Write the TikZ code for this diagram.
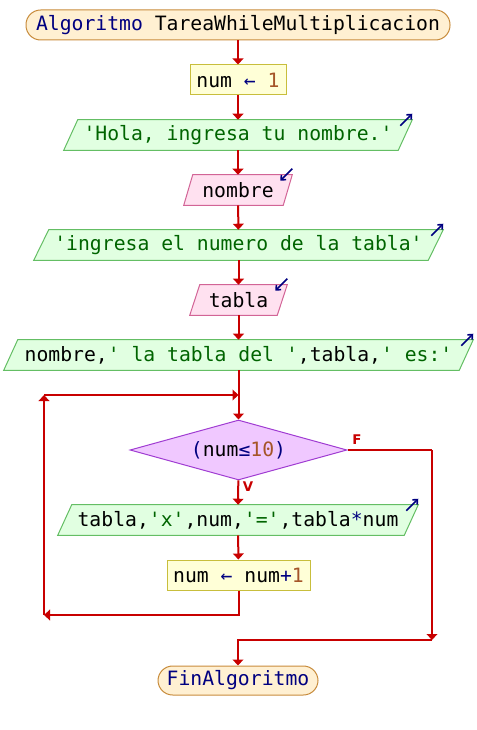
\documentclass[tikz,border=0pt]{standalone}
\usepackage{fontspec}
\newfontfamily\codefont{DejaVu Sans Mono}
\newfontfamily\tagfont{DejaVu Sans}
\usetikzlibrary{shapes.geometric,arrows.meta,backgrounds,calc}

\definecolor{flowred}{RGB}{200,0,0}
\definecolor{kw}{RGB}{0,0,128}
\definecolor{nb}{RGB}{165,85,40}
\definecolor{st}{RGB}{0,100,0}
\definecolor{termfill}{RGB}{255,240,210}
\definecolor{termline}{RGB}{200,140,60}
\definecolor{procfill}{RGB}{255,255,215}
\definecolor{procline}{RGB}{200,190,60}
\definecolor{outfill}{RGB}{225,255,225}
\definecolor{outline}{RGB}{100,190,100}
\definecolor{infill}{RGB}{255,225,240}
\definecolor{inline}{RGB}{210,100,150}
\definecolor{decfill}{RGB}{240,200,255}
\definecolor{decline}{RGB}{160,60,210}

% parallelogram around a fixed-size text node: name, half slant (px), style
\newcommand{\slantbox}[3]{%
  \path[#3] ([xshift=-#2*0.75pt]#1.south west) -- ([xshift=-#2*0.75pt]#1.south east)
    -- ([xshift=#2*0.75pt]#1.north east) -- ([xshift=#2*0.75pt]#1.north west) -- cycle;}
% small navy arrow at the top right corner of an output block
\newcommand{\outicon}[2]{%
  \draw[icon] ([shift={(#2-12,6)}]#1.north east) -- ([shift={(#2,-6)}]#1.north east);}
% small navy arrow at the top right corner of an input block
\newcommand{\inicon}[2]{%
  \draw[icon] ([shift={(#2,-6)}]#1.north east) -- ([shift={(#2-12,6)}]#1.north east);}

\begin{document}
\begin{tikzpicture}[x=0.75pt,y=-0.75pt,
  every node/.style={font=\codefont\fontsize{14.8}{17}\selectfont, inner sep=0pt},
  block/.style={minimum height=22.5pt},
  term/.style={block, draw=termline, fill=termfill, line width=0.75pt, rounded corners=11pt},
  proc/.style={block, draw=procline, fill=procfill, line width=0.75pt},
  slot/.style={block},
  outshape/.style={draw=outline, fill=outfill, line width=0.75pt},
  inshape/.style={draw=inline, fill=infill, line width=0.75pt},
  dec/.style={diamond, aspect=3.6, draw=decline, fill=decfill, line width=0.75pt,
    minimum width=162.75pt, minimum height=45pt},
  flow/.style={draw=flowred, line width=1.5pt},
  tip/.style={-{Triangle[width=8pt,length=4.5pt]}},
  icon/.style={draw=kw, line width=1.2pt, -{Straight Barb[length=2.8pt,width=5pt]}},
  tag/.style={text=flowred, font=\tagfont\bfseries\fontsize{10}{12}\selectfont}]
\useasboundingbox (0,0) rectangle (476,730);

% blocks of the flowchart
\node[term, minimum width=318pt] (start) at (238,25)
  {{\color{kw}Algoritmo} TareaWhileMultiplicacion};
\node[proc, minimum width=72pt] (init) at (238,80)
  {num {\color{kw}←} {\color{nb}1}};
\node[slot, minimum width=250.5pt] (hola) at (238,135)
  {{\color{st}'Hola, ingresa tu nombre.'}};
\node[slot, minimum width=74.25pt] (readname) at (238,190) {nombre};
\node[slot, minimum width=295.5pt] (asktab) at (238.5,245)
  {{\color{st}'ingresa el numero de la tabla'}};
\node[slot, minimum width=65.25pt] (readtab) at (238.5,300) {tabla};
\node[slot, minimum width=341.25pt] (title) at (238.5,355)
  {nombre,{\color{st}' la tabla del '},tabla,{\color{st}' es:'}};
\node[dec] (cond) at (238.5,450)
  {{\color{kw}(}num{\color{kw}≤}{\color{nb}10}{\color{kw})}};
\node[slot, minimum width=259.5pt] (row) at (238,520)
  {tabla,{\color{st}'x'},num,{\color{st}'='},tabla{\color{kw}*}num};
\node[proc, minimum width=107.25pt] (step) at (238.5,575)
  {num {\color{kw}←} num{\color{kw}+}{\color{nb}1}};
\node[term, minimum width=120pt, minimum height=21.75pt] (finish) at (238,680.5)
  {{\color{kw}FinAlgoritmo}};

\node[tag] (flabel) at (357,440) {F};
\node[tag] (vlabel) at (248,487) {V};

% input/output shapes behind their texts
\begin{scope}[on background layer]
  \slantbox{hola}{7}{outshape}
  \slantbox{readname}{4.5}{inshape}
  \slantbox{asktab}{7.5}{outshape}
  \slantbox{readtab}{5}{inshape}
  \slantbox{title}{7}{outshape}
  \slantbox{row}{7}{outshape}
\end{scope}

\outicon{hola}{7}
\inicon{readname}{4.5}
\outicon{asktab}{7.5}
\inicon{readtab}{5}
\outicon{title}{7}
\outicon{row}{7}

% points of the loop and of the exit path
\coordinate (loopjoin) at (238.5,395);
\coordinate (loopbottom) at (44,615);
\coordinate (looptop) at (44,395);
\coordinate (exitright) at (432,450);
\coordinate (exitdown) at (432,640);

% connectors
\draw[flow,tip] (start) -- (init);
\draw[flow,tip] (init) -- (hola);
\draw[flow,tip] (hola) -- (readname);
\draw[flow,tip] (readname) -- (asktab);
\draw[flow,tip] (asktab) -- (readtab);
\draw[flow,tip] (readtab) -- (title);
\draw[flow,tip] (title) -- (cond);
\draw[flow,tip] (cond) -- (row);
\draw[flow,tip] (row) -- (step);
\draw[flow,tip] (step.south) |- (loopbottom);
\draw[flow,tip] (loopbottom) -- (looptop);
\draw[flow,tip] (looptop) -- (loopjoin);
\draw[flow] (cond.east) -- (exitright);
\draw[flow,tip] (exitright) -- (exitdown);
\draw[flow,tip] (exitdown) -| (finish.north);
\end{tikzpicture}
\end{document}
